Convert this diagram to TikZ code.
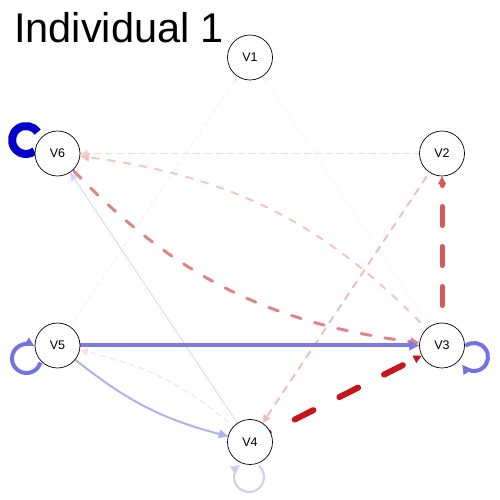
\documentclass[tikz,border=0pt]{standalone}
\usepackage{fontspec}
\setmainfont{Liberation Sans}
\usetikzlibrary{arrows.meta,calc}
\pgfdeclarelayer{bg}
\pgfsetlayers{bg,main}
\definecolor{cRedA}{RGB}{198,22,28}
\definecolor{cRedB}{RGB}{214,88,88}
\definecolor{cRedC}{RGB}{222,134,134}
\definecolor{cRedD}{RGB}{242,196,196}
\definecolor{cRedE}{RGB}{246,216,216}
\definecolor{cRedF}{RGB}{240,190,190}
\definecolor{cRedG}{RGB}{250,224,228}
\definecolor{cRedH}{RGB}{250,236,236}
\definecolor{cRedI}{RGB}{250,244,244}
\definecolor{cBlueA}{RGB}{0,0,204}
\definecolor{cBlueB}{RGB}{124,124,232}
\definecolor{cBlueC}{RGB}{114,114,228}
\definecolor{cBlueD}{RGB}{176,176,240}
\definecolor{cBlueE}{RGB}{204,204,244}
\definecolor{cBlueF}{RGB}{212,212,244}
\begin{document}
\begin{tikzpicture}[x=1pt,y=1pt,
  vnode/.style={circle,draw=black,line width=0.7pt,fill=white,minimum size=45pt,inner sep=0pt,font=\fontsize{12.5}{14}\selectfont},
  arr/.style={-{Triangle[length=#1,width=#1,line width=0.4pt]}},
  arr/.default=8pt,
  edge/.style={line cap=round}]
\useasboundingbox (0,0) rectangle (500,500);
\node[anchor=base west,font=\fontsize{41.5}{48}\selectfont,inner sep=0pt] (title) at (14,457) {Individual 1};
\node[vnode] (v1) at (250,442.5) {V1};
\node[vnode] (v6) at (57.5,346.5) {V6};
\node[vnode] (v2) at (442,346.5) {V2};
\node[vnode] (v5) at (57.5,154.5) {V5};
\node[vnode] (v3) at (442,154.5) {V3};
\node[vnode] (v4) at (250,58) {V4};
\coordinate (c6) at ($(v6)+(-31.5,13.5)$);
\coordinate (c5) at ($(v5)+(-31,-13)$);
\coordinate (c3) at ($(v3)+(32,-11.5)$);
\coordinate (c4) at ($(v4)+(-1,-35)$);
\begin{pgfonlayer}{bg}
% faint edges into V1
\draw[edge,cRedI,line width=0.7pt,arr=6pt] (v3) -- (v1);
\draw[edge,cRedH,line width=1pt,dash pattern=on 4pt off 4pt,arr=6pt] (v5.center) -- (v1);
% V2 -> V6
\draw[edge,cRedE,line width=1.5pt,dash pattern=on 6pt off 5pt,arr=8pt] (v2.center) -- (v6);
% V2 -> V4
\draw[edge,cRedF,line width=2pt,dash pattern=on 7pt off 7pt,arr=8pt] (v2.center) -- (v4);
% V3 -> V6 (upper curve)
\draw[edge,cRedD,line width=2pt,dash pattern=on 7pt off 9pt,arr=9pt] (v3.center) to[bend right=20] (v6);
% V6 -> V3 (lower curve)
\draw[edge,cRedC,line width=3pt,dash pattern=on 10pt off 14pt,arr=9pt] (v6.center) to[bend right=20] (v3);
% V4 -> V5
\draw[edge,cRedG,line width=1.2pt,dash pattern=on 5pt off 5pt,arr=8pt] (v4.center) to[bend right=15] (v5);
% V4 -> V6
\draw[edge,cBlueF,line width=0.8pt,arr=8pt] (v4) -- (v6);
% V5 -> V4
\draw[edge,cBlueD,line width=2pt,arr=9pt] (v5) to[bend right=12] (v4);
% V5 -> V3
\draw[edge,cBlueB,line width=4pt,arr=10pt] (v5) -- (v3);
% V3 -> V2
\draw[edge,cRedB,line width=5pt,dash pattern=on 19pt off 21pt,arr=8pt] (v3.center) -- (v2);
% V4 -> V3
\draw[edge,cRedA,line width=6pt,dash pattern=on 21pt off 29pt,arr=8pt] (v4.center) -- (v3);
% self loops
\draw[cBlueA,line width=8pt] ($(c6)+(34:14)$) arc[start angle=34,end angle=307,radius=14];
\draw[cBlueC,line width=4pt,arr=9pt] ($(c5)+(-16:14.5)$) arc[start angle=-16,end angle=-302,radius=14.5];
\draw[cBlueC,line width=4pt,arr=9pt] ($(c3)+(127:14)$) arc[start angle=127,end angle=-146,radius=14];
\draw[cBlueE,line width=2pt,arr=9pt] ($(c4)+(49:15)$) arc[start angle=49,end angle=-233,radius=15];
\end{pgfonlayer}
\end{tikzpicture}
\end{document}
